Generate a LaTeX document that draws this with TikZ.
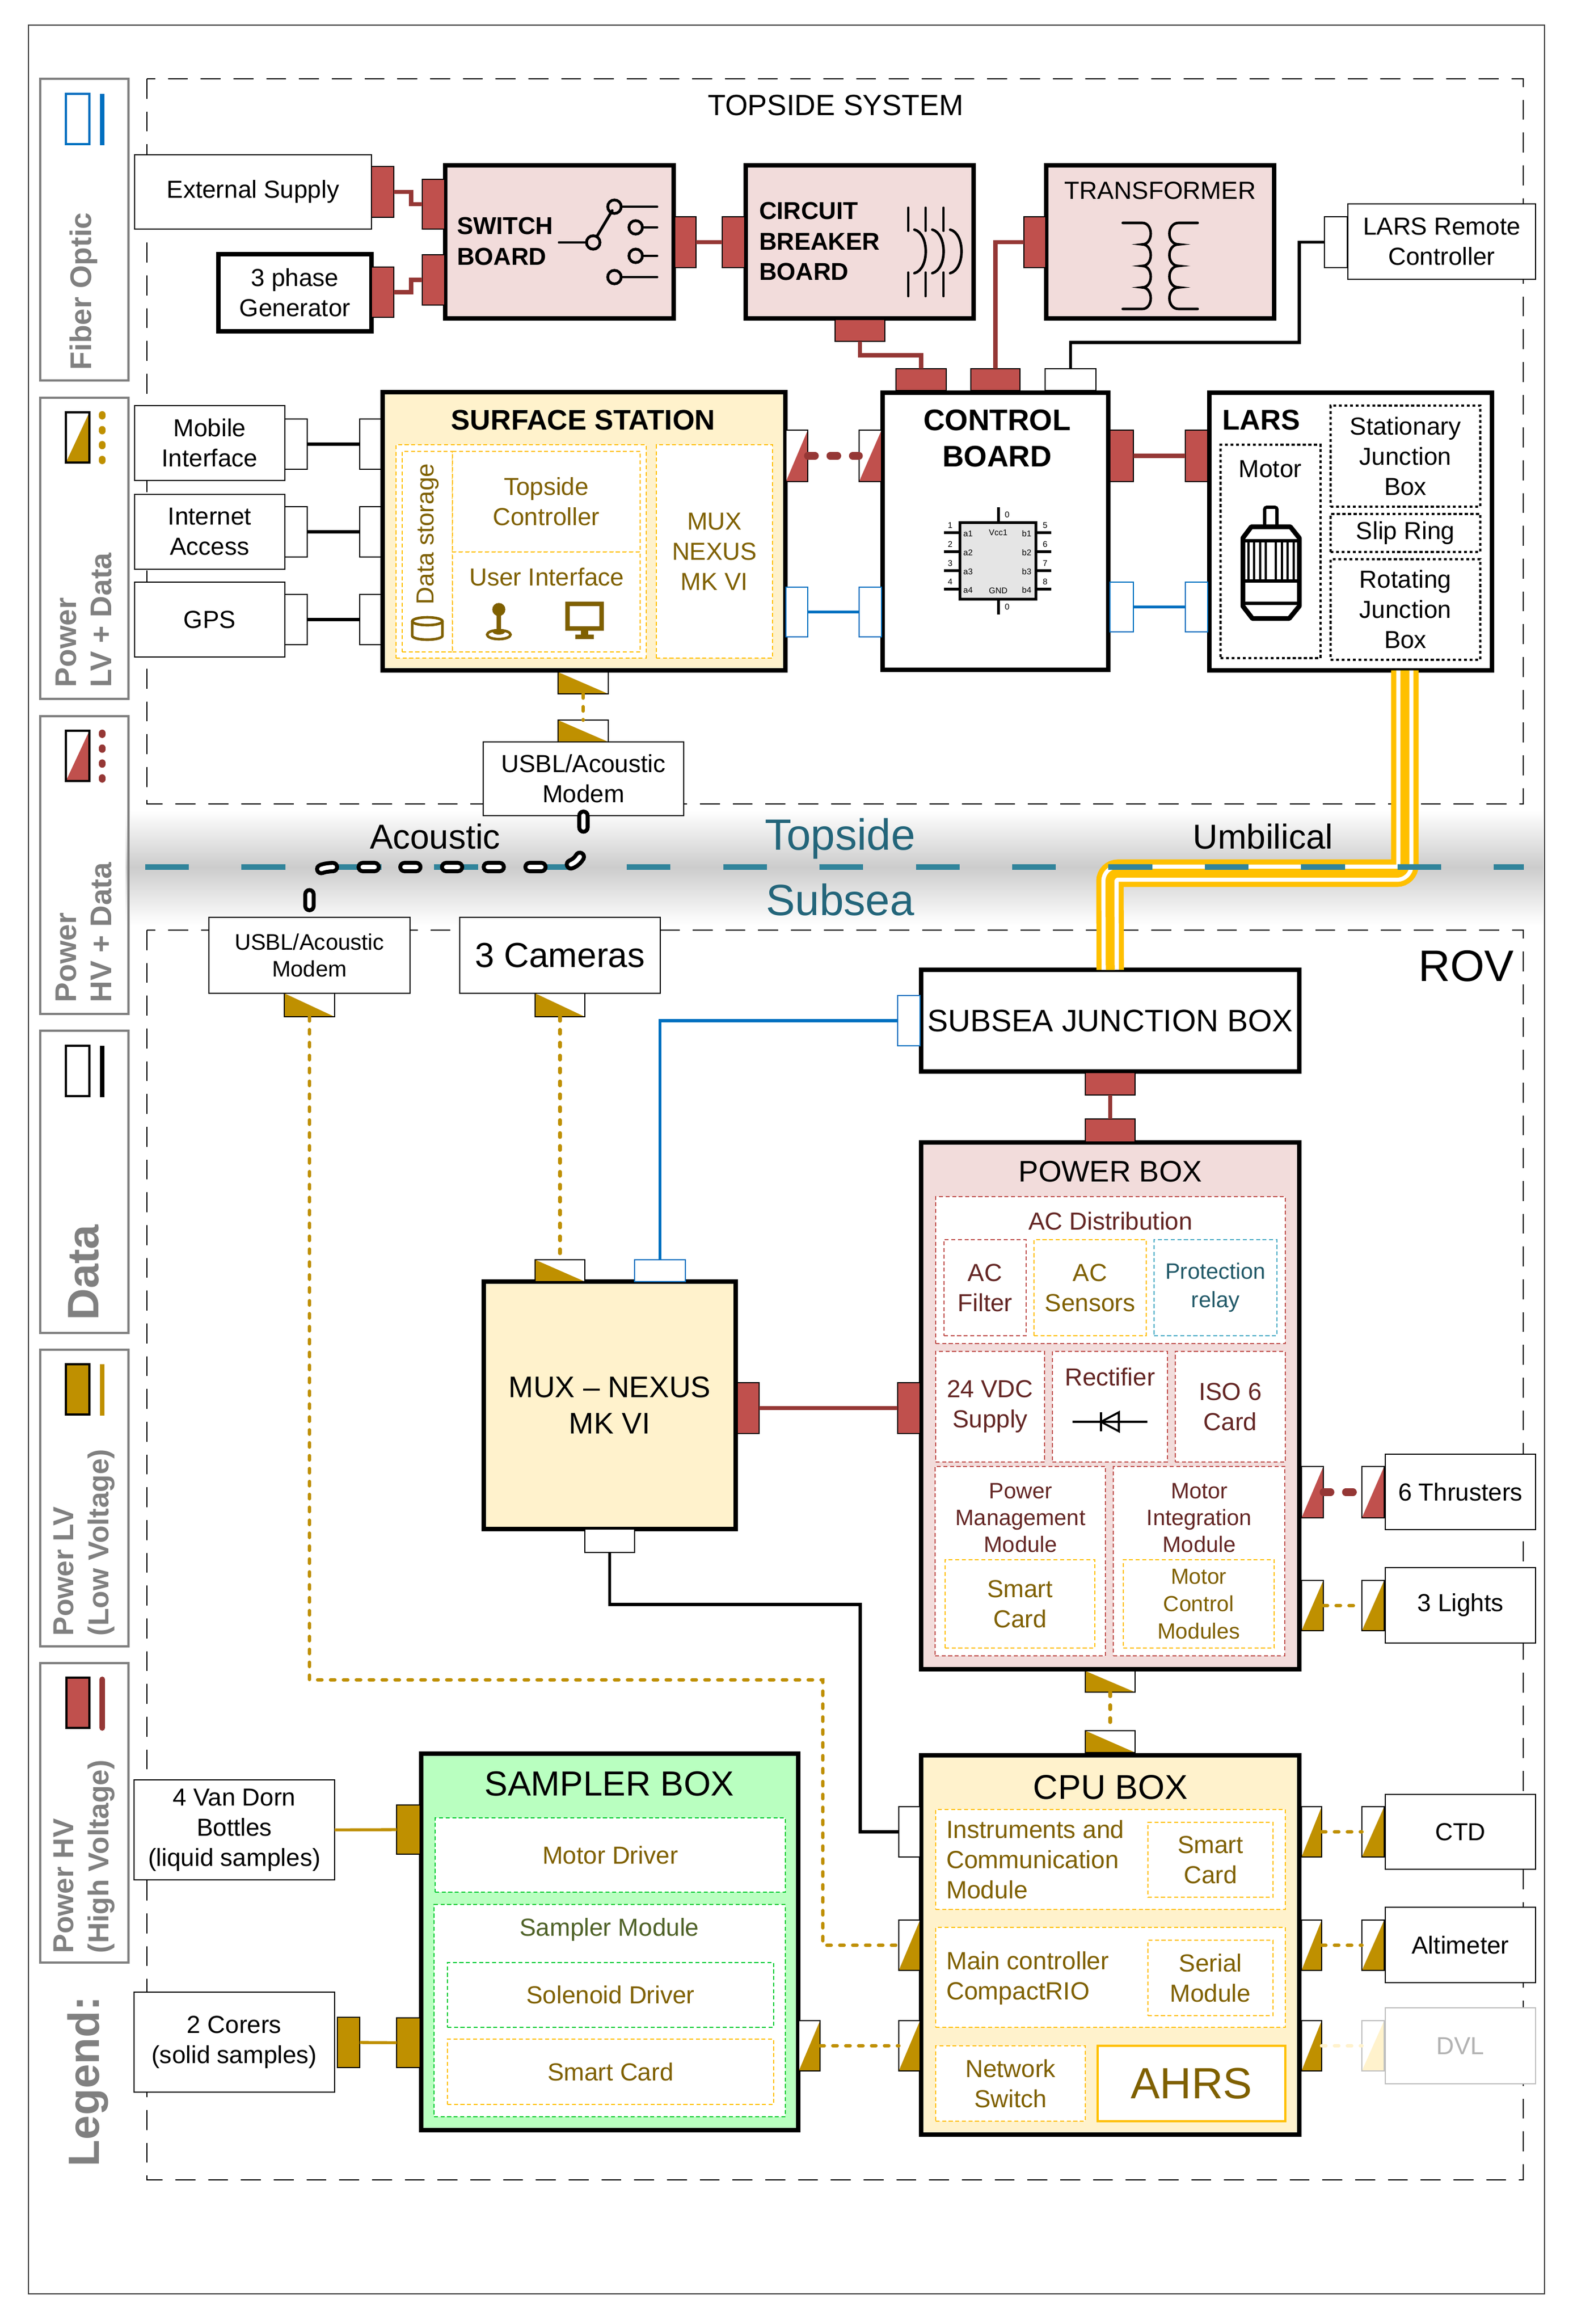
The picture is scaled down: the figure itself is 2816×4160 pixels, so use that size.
\documentclass[tikz,border=0pt]{standalone}
\usepackage{fontspec}
\setmainfont{Liberation Sans}
\newcommand{\myfs}[2]{\fontsize{#1}{#2}\selectfont}
\newcommand{\mkbox}[7]{\node[#1, minimum width={(#5-#3)*0.28125pt}, minimum height={(#6-#4)*0.28125pt}] (#2) at ({(#3+#5)/2},{(#4+#6)/2}) {#7};}
\definecolor{hvred}{HTML}{C0504D}
\definecolor{hvwire}{HTML}{953735}
\definecolor{gold}{HTML}{BF9000}
\definecolor{dkgold}{HTML}{7F6000}
\definecolor{pinkfill}{HTML}{F2DCDB}
\definecolor{cream}{HTML}{FFF2CC}
\definecolor{yel}{HTML}{FFC000}
\definecolor{fiber}{HTML}{0070C0}
\definecolor{septeal}{HTML}{31849B}
\definecolor{seatext}{HTML}{23657A}
\definecolor{dkred}{HTML}{632523}
\definecolor{prteal}{HTML}{4BACC6}
\definecolor{prtext}{HTML}{215968}
\definecolor{greenfill}{RGB}{185,255,192}
\definecolor{grdot}{HTML}{00CC33}
\definecolor{olivetext}{HTML}{4F6228}
\definecolor{leggray}{HTML}{808080}
\tikzset{
  every node/.style={font=\myfs{12.4}{15.2}, inner sep=0pt, outer sep=0pt, align=center},
  bx/.style={draw, line width=0.8pt, fill=white},
  tbx/.style={draw, line width=2.4pt},
  port/.style={draw, line width=0.8pt},
  phv/.style={port, fill=hvred},
  plv/.style={port, fill=gold},
  pdat/.style={port, fill=white},
  pfo/.style={port, draw=fiber, fill=white},
  phvdv/.style={port, fill=white, path picture={\fill[hvred] (path picture bounding box.south west) -- (path picture bounding box.north east) -- (path picture bounding box.south east) -- cycle;}},
  plvdh/.style={port, fill=white, path picture={\fill[gold] (path picture bounding box.north west) -- (path picture bounding box.south west) -- (path picture bounding box.south east) -- cycle;}},
  plvdv/.style={port, fill=white, path picture={\fill[gold] (path picture bounding box.south west) -- (path picture bounding box.north east) -- (path picture bounding box.south east) -- cycle;}},
  pfade/.style={port, draw=black!25, fill=white, path picture={\fill[cream] (path picture bounding box.south west) -- (path picture bounding box.north east) -- (path picture bounding box.south east) -- cycle;}},
  dotb/.style={draw, line width=0.75pt, dash pattern=on 2pt off 1.3pt, fill=white},
  ydot/.style={dotb, draw=yel},
  rdot/.style={dotb, draw=hvred},
  gdot/.style={dotb, draw=grdot},
  tdot/.style={dotb, draw=prteal},
  kdot/.style={dotb, draw=black, line width=0.9pt, dash pattern=on 1.5pt off 1.3pt},
  hvw/.style={draw=hvwire, line width=2pt},
  datw/.style={draw=black, line width=1.5pt},
  fow/.style={draw=fiber, line width=1.5pt},
  lvw/.style={draw=gold, line width=1.5pt},
  lvdw/.style={draw=gold, line width=1.8pt, line cap=round, dash pattern=on 2.1pt off 4.4pt},
  hvdw/.style={draw=hvwire, line width=3.7pt, line cap=round, dash pattern=on 3.7pt off 7.6pt},
  sym/.style={draw=black, line width=1.3pt, line cap=round},
  legbox/.style={draw=leggray, line width=1.3pt},
  legtxt/.style={text=leggray, font=\bfseries\myfs{15}{17.7}, rotate=90, anchor=west, align=left},
  dashbox/.style={draw=black, line width=0.8pt, dash pattern=on 10pt off 6.5pt},
  ttl/.style={font=\myfs{15}{18.3}},
  bttl/.style={font=\bfseries\myfs{15}{18.3}},
}
\begin{document}
\begin{tikzpicture}[x=0.28125pt, y=-0.28125pt]
\useasboundingbox (0,0) rectangle (2816,4160);
\fill[white] (0,0) rectangle (2816,4160);
\draw[black!75, line width=0.5pt] (51,45) rectangle (2765,4106);

% separator band
\shade[top color=white, bottom color=white, middle color=black!20] (225,1450) rectangle (2763,1655);

% dashed system boxes
\draw[dashbox] (263,141) rectangle (2727,1439);
\draw[dashbox] (263,1665) rectangle (2727,3902);
\node[font=\myfs{14.7}{17}] (topsys) at (1496,189) {TOPSIDE SYSTEM};
\node[font=\myfs{22.2}{26}] (rovt) at (2625,1729) {ROV};

% ===== Legend =====
\mkbox{legbox}{lg1}{72}{141}{230}{681}{}
\mkbox{legbox}{lg2}{72}{712}{230}{1251}{}
\mkbox{legbox}{lg3}{72}{1282}{230}{1815}{}
\mkbox{legbox}{lg4}{72}{1845}{230}{2386}{}
\mkbox{legbox}{lg5}{72}{2416}{230}{2947}{}
\mkbox{legbox}{lg6}{72}{2977}{230}{3513}{}
\mkbox{pfo, line width=1pt}{lgi1}{118}{168}{160}{258}{}
\draw[fiber, line width=2pt] (183,168) -- (183,260);
\mkbox{plvdv, line width=1pt}{lgi2}{118}{738}{160}{828}{}
\draw[gold, line width=3.4pt, line cap=round, dash pattern=on 0.8pt off 6.7pt] (183,742) -- (183,828);
\mkbox{phvdv, line width=1pt}{lgi3}{118}{1308}{160}{1398}{}
\draw[hvwire, line width=3.4pt, line cap=round, dash pattern=on 0.8pt off 6.7pt] (183,1312) -- (183,1398);
\mkbox{pdat, line width=1pt}{lgi4}{118}{1872}{160}{1962}{}
\draw[black, line width=2pt] (183,1872) -- (183,1964);
\mkbox{plv, line width=1pt}{lgi5}{118}{2442}{160}{2532}{}
\draw[gold, line width=2pt] (183,2442) -- (183,2534);
\mkbox{phv, line width=1pt}{lgi6}{119}{3003}{160}{3093}{}
\draw[hvwire, line width=2.8pt, line cap=round] (183,3006) -- (183,3093);
\node[legtxt] (lgt1) at (150,662) {Fiber Optic};
\node[legtxt] (lgt2) at (150,1230) {Power\\LV + Data};
\node[legtxt] (lgt3) at (150,1794) {Power\\HV + Data};
\node[text=leggray, font=\bfseries\myfs{22.2}{26}, rotate=90] (lgt4) at (150,2278) {Data};
\node[legtxt, font=\bfseries\myfs{14.5}{17.7}] (lgt5) at (151,2928) {Power LV\\(Low Voltage)};
\node[legtxt, font=\bfseries\myfs{14.5}{17.7}] (lgt6) at (151,3496) {Power HV\\(High Voltage)};
\node[legtxt, font=\bfseries\myfs{22}{26}] (lgt7) at (157,3878) {Legend:};

% ===== Topside =====
\mkbox{bx}{ext}{241}{277}{665}{410}{External Supply}
\mkbox{phv}{extp}{665}{298}{705}{389}{}
\mkbox{bx, line width=2pt}{gen}{391}{455}{665}{593}{3 phase\\Generator}
\mkbox{phv}{genp}{665}{478}{705}{568}{}

\mkbox{tbx, fill=pinkfill}{sw}{797}{296}{1206}{570}{}
\node[font=\bfseries\myfs{12.3}{15.7}, anchor=west, align=left] (swt) at (818,432) {SWITCH\\BOARD};
\mkbox{phv}{swp1}{756}{321}{796}{410}{}
\mkbox{phv}{swp2}{756}{456}{796}{546}{}
\mkbox{phv}{swp3}{1208}{388}{1246}{479}{}
\draw[sym, line width=1.4pt] (1001,434) -- (1050,434);
\draw[sym, line width=1.4pt] (1062,434) circle[radius=3.4pt];
\draw[sym, line width=1.4pt] (1068,424) -- (1096,377);
\draw[sym, line width=1.4pt] (1100,370) circle[radius=3.4pt];
\draw[sym, line width=1.4pt] (1112,370) -- (1176,370);
\draw[sym, line width=1.4pt] (1138,407) circle[radius=3.4pt];
\draw[sym, line width=1.4pt] (1150,407) -- (1176,407);
\draw[sym, line width=1.4pt] (1138,458) circle[radius=3.4pt];
\draw[sym, line width=1.4pt] (1150,458) -- (1176,458);
\draw[sym, line width=1.4pt] (1100,496) circle[radius=3.4pt];
\draw[sym, line width=1.4pt] (1112,496) -- (1176,496);

\mkbox{tbx, fill=pinkfill}{cb}{1335}{296}{1743}{570}{}
\node[font=\bfseries\myfs{12.3}{15.3}, anchor=west, align=left] (cbt) at (1359,432) {CIRCUIT\\BREAKER\\BOARD};
\mkbox{phv}{cbp1}{1293}{388}{1333}{479}{}
\mkbox{phv}{cbp2}{1495}{572}{1584}{611}{}
\foreach \x in {1626,1657,1689} {
  \draw[sym] (\x,372) -- (\x,413);
  \draw[sym] (\x,488) -- (\x,530);
}
\foreach \x in {1637,1669,1701}
  \draw[sym] (\x,411) .. controls (\x+27,418) and (\x+27,482) .. (\x,489);

\mkbox{tbx, fill=pinkfill}{tr}{1873}{296}{2281}{570}{}
\node[font=\myfs{12.5}{15}] (trt) at (2077,341) {TRANSFORMER};
\mkbox{phv}{trp}{1833}{388}{1872}{479}{}
\draw[sym] (2010,399) -- (2045,399)
  .. controls (2065,399) and (2065,437.5) .. (2045,437.5)
  .. controls (2065,437.5) and (2065,476) .. (2045,476)
  .. controls (2065,476) and (2065,514.5) .. (2045,514.5)
  .. controls (2065,514.5) and (2065,553) .. (2045,553) -- (2010,553);
\draw[sym] (2144,399) -- (2110,399)
  .. controls (2088,399) and (2088,437.5) .. (2110,437.5)
  .. controls (2088,437.5) and (2088,476) .. (2110,476)
  .. controls (2088,476) and (2088,514.5) .. (2110,514.5)
  .. controls (2088,514.5) and (2088,553) .. (2110,553) -- (2144,553);

\mkbox{bx}{lrc}{2413}{365}{2749}{500}{LARS Remote\\Controller}
\mkbox{pdat}{lrcp}{2371}{388}{2412}{479}{}

% control board
\mkbox{tbx, fill=white}{ctl}{1580}{703}{1984}{1199}{}
\node[bttl] (ctlt) at (1785,785) {CONTROL\\BOARD};
\mkbox{phv}{ctlp1}{1604}{660}{1694}{699}{}
\mkbox{phv}{ctlp2}{1738}{660}{1826}{699}{}
\mkbox{pdat}{ctlp3}{1871}{660}{1962}{699}{}
\mkbox{phvdv}{ctlp4}{1538}{770}{1578}{862}{}
\mkbox{pfo}{ctlp5}{1538}{1051}{1578}{1140}{}
\mkbox{phv}{ctlp6}{1987}{770}{2029}{862}{}
\mkbox{pfo}{ctlp7}{1987}{1042}{2029}{1131}{}
% chip
\draw[line width=1.4pt, fill=black!10] (1718,935) rectangle (1854,1072);
\foreach \y in {953,987,1021,1054} {
  \draw[line width=1.4pt] (1690,\y) -- (1718,\y);
  \draw[line width=1.4pt] (1854,\y) -- (1882,\y);
}
\draw[line width=1.4pt] (1787,908) -- (1787,935);
\draw[line width=1.4pt] (1787,1072) -- (1787,1100);
\foreach \i/\y in {1/940,2/974,3/1008,4/1041}
  \node[font=\myfs{4.2}{5}] (cpn\i) at (1701,\y) {\i};
\foreach \i/\y in {5/940,6/974,7/1008,8/1041}
  \node[font=\myfs{4.2}{5}] (cpn\i) at (1871,\y) {\i};
\node[font=\myfs{4.2}{5}] (cpz1) at (1803,921) {0};
\node[font=\myfs{4.2}{5}] (cpz2) at (1803,1086) {0};
\foreach \i/\y in {1/955,2/989,3/1023,4/1056} {
  \node[font=\myfs{4.2}{5}] (cpa\i) at (1733,\y) {a\i};
  \node[font=\myfs{4.2}{5}] (cpb\i) at (1838,\y) {b\i};
}
\node[font=\myfs{4.2}{5}] (cpvcc) at (1787,953) {Vcc1};
\node[font=\myfs{4.2}{5}] (cpgnd) at (1787,1057) {GND};

% LARS
\mkbox{tbx, fill=white}{lars}{2165}{703}{2671}{1200}{}
\node[font=\bfseries\myfs{14.4}{17}] (larst) at (2258,752) {LARS};
\mkbox{kdot}{lmot}{2185}{796}{2364}{1178}{}
\node (lmott) at (2274,840) {Motor};
\mkbox{kdot}{ljb1}{2382}{726}{2650}{907}{Stationary\\Junction\\Box}
\mkbox{kdot}{lslip}{2382}{920}{2650}{988}{Slip Ring}
\mkbox{kdot}{ljb2}{2382}{1001}{2650}{1181}{Rotating\\Junction\\Box}
\mkbox{phv}{larsp1}{2122}{770}{2162}{862}{}
\mkbox{pfo}{larsp2}{2122}{1042}{2162}{1131}{}
% motor icon
\draw[line width=1.6pt, fill=white, rounded corners=1pt] (2264,908) rectangle (2286,943);
\draw[line width=2.4pt, fill=white, line join=round] (2240,943) -- (2310,943) -- (2326,963) -- (2326,1085) -- (2308,1107) -- (2242,1107) -- (2225,1085) -- (2225,963) -- cycle;
\draw[line width=1.6pt] (2225,968) -- (2326,968);
\draw[line width=1.6pt] (2225,1040) -- (2326,1040);
\draw[line width=1.6pt] (2225,1080) -- (2326,1080);
\foreach \x in {2235,2245,2256,2266,2284,2295,2305,2316}
  \draw[line width=1.1pt] (\x,968) -- (\x,1040);

% surface station
\mkbox{tbx, fill=cream}{ss}{685}{702}{1406}{1200}{}
\node[font=\bfseries\myfs{14.3}{17}] (sst) at (1044,752) {SURFACE STATION};
\mkbox{ydot}{ssg}{709}{796}{1157}{1178}{}
\mkbox{ydot}{ssds}{720}{808}{810}{1167}{}
\node[rotate=90, text=dkgold] (ssdst) at (766,956) {Data storage};
\mkbox{ydot, text=dkgold}{sstc}{810}{808}{1146}{988}{Topside\\Controller}
\mkbox{ydot}{ssui}{810}{988}{1146}{1167}{}
\node[text=dkgold] (ssuit) at (979,1033) {User Interface};
\mkbox{ydot, text=dkgold}{ssmux}{1175}{796}{1383}{1178}{MUX\\NEXUS\\MK VI}
% database icon
\draw[dkgold, line width=1.3pt, fill=white] (738,1112) -- (738,1138) arc[start angle=180, end angle=0, x radius=27, y radius=7] -- (792,1112);
\draw[dkgold, line width=1.3pt, fill=white] (765,1112) ellipse [x radius=27, y radius=7];
% joystick icon
\draw[dkgold, line width=1.3pt, fill=white] (893,1136) ellipse [x radius=21, y radius=8];
\fill[dkgold] (893,1131) ellipse [x radius=11, y radius=5];
\draw[dkgold, line width=2.2pt] (893,1100) -- (893,1130);
\fill[dkgold] (893,1091) circle[radius=3.3pt];
% monitor icon
\draw[dkgold, line width=2.2pt, fill=white] (1016,1081) rectangle (1077,1125);
\fill[dkgold] (1040,1125) rectangle (1053,1137);
\fill[dkgold] (1030,1136) rectangle (1063,1144);
\mkbox{phvdv}{sspr}{1407}{770}{1446}{862}{}
\mkbox{pfo}{sspb}{1407}{1051}{1446}{1140}{}
\mkbox{plvdh}{sspbot}{999}{1203}{1089}{1242}{}
\mkbox{pdat}{sspl1}{644}{750}{682}{840}{}
\mkbox{pdat}{sspl2}{644}{907}{682}{997}{}
\mkbox{pdat}{sspl3}{644}{1064}{682}{1154}{}

\mkbox{bx}{mob}{241}{726}{510}{860}{Mobile\\Interface}
\mkbox{pdat}{mobp}{510}{750}{550}{840}{}
\mkbox{bx}{inet}{241}{885}{510}{1019}{Internet\\Access}
\mkbox{pdat}{inetp}{510}{907}{550}{997}{}
\mkbox{bx}{gps}{241}{1042}{510}{1176}{GPS}
\mkbox{pdat}{gpsp}{510}{1064}{550}{1154}{}

\mkbox{bx}{tmodem}{865}{1328}{1224}{1460}{USBL/Acoustic\\Modem}
\mkbox{plvdh}{tmodemp}{999}{1289}{1089}{1328}{}

% ===== ROV =====
\mkbox{bx, font=\myfs{11.3}{13.6}}{smodem}{374}{1642}{734}{1778}{USBL/Acoustic\\Modem}
\mkbox{plvdh}{smodemp}{509}{1778}{599}{1820}{}
\mkbox{bx, font=\myfs{17.5}{20}}{cams}{823}{1642}{1182}{1778}{3 Cameras}
\mkbox{plvdh}{camsp}{958}{1778}{1047}{1820}{}

\mkbox{tbx, fill=white, font=\myfs{15.6}{18}}{sjb}{1649}{1736}{2326}{1918}{SUBSEA JUNCTION BOX}
\mkbox{pfo}{sjbpl}{1607}{1782}{1647}{1872}{}
\mkbox{phv}{sjbpb}{1943}{1920}{2032}{1960}{}

% power box
\mkbox{tbx, fill=pinkfill}{pb}{1649}{2045}{2326}{2988}{}
\node[ttl] (pbt) at (1988,2097) {POWER BOX};
\mkbox{phv}{pbpt}{1943}{2003}{2032}{2044}{}
\mkbox{phv}{pbpl}{1607}{2475}{1647}{2566}{}
\mkbox{phvdv}{pbpr1}{2330}{2625}{2369}{2717}{}
\mkbox{plvdv}{pbpr2}{2330}{2829}{2369}{2919}{}
\mkbox{plvdh}{pbpb}{1943}{2991}{2032}{3029}{}
\mkbox{rdot}{acd}{1675}{2142}{2301}{2405}{}
\node[text=dkred] (acdt) at (1988,2186) {AC Distribution};
\mkbox{rdot, text=dkred}{acf}{1690}{2219}{1837}{2391}{AC\\Filter}
\mkbox{ydot, text=dkgold}{acs}{1851}{2219}{2052}{2391}{AC\\Sensors}
\mkbox{tdot, text=prtext, font=\myfs{11.2}{14.3}}{prl}{2066}{2219}{2286}{2391}{Protection\\relay}
\mkbox{rdot, text=dkred}{vdc}{1675}{2419}{1870}{2617}{24 VDC\\Supply}
\mkbox{rdot}{rectf}{1884}{2419}{2090}{2617}{}
\node[text=dkred] (rectt) at (1987,2465) {Rectifier};
\draw[line width=1pt] (1920,2545) -- (2054,2545);
\draw[line width=1pt] (1971,2528) -- (1971,2562);
\draw[line width=1pt, line join=miter] (1971,2545) -- (2003,2528) -- (2003,2562) -- cycle;
\mkbox{rdot, text=dkred}{iso}{2104}{2419}{2301}{2617}{ISO 6\\Card}
\mkbox{rdot}{pmm}{1674}{2625}{1979}{2964}{}
\node[text=dkred, font=\myfs{11.2}{13.5}] (pmmt) at (1827,2717) {Power\\Management\\Module};
\mkbox{rdot}{mim}{1993}{2625}{2300}{2964}{}
\node[text=dkred, font=\myfs{11.2}{13.5}] (mimt) at (2147,2717) {Motor\\Integration\\Module};
\mkbox{ydot, text=dkgold}{sc1}{1692}{2792}{1960}{2950}{Smart\\Card}
\mkbox{ydot, text=dkgold, font=\myfs{11}{13.8}}{mcm}{2011}{2792}{2281}{2950}{Motor\\Control\\Modules}

\mkbox{bx}{thr}{2480}{2603}{2749}{2738}{6 Thrusters}
\mkbox{phvdv}{thrp}{2438}{2625}{2478}{2717}{}
\mkbox{bx}{lights}{2480}{2806}{2749}{2941}{3 Lights}
\mkbox{plvdv}{lightsp}{2438}{2829}{2478}{2919}{}

% MUX
\mkbox{tbx, fill=cream, font=\myfs{15}{18.4}}{mux}{866}{2294}{1317}{2737}{MUX -- NEXUS\\MK VI}
\mkbox{plvdh}{muxpt1}{958}{2255}{1047}{2294}{}
\mkbox{pfo}{muxpt2}{1136}{2255}{1227}{2294}{}
\mkbox{phv}{muxpr}{1320}{2475}{1359}{2566}{}
\mkbox{pdat}{muxpb}{1047}{2737}{1136}{2779}{}

% CPU box
\mkbox{tbx, fill=cream}{cpu}{1649}{3142}{2326}{3821}{}
\node[font=\myfs{17.3}{20}] (cput) at (1988,3199) {CPU BOX};
\mkbox{plvdh}{cpupt}{1943}{3098}{2032}{3137}{}
\mkbox{pdat}{cpupl1}{1609}{3234}{1647}{3324}{}
\mkbox{plvdv}{cpupl2}{1609}{3437}{1647}{3527}{}
\mkbox{plvdv}{cpupl3}{1609}{3617}{1647}{3707}{}
\mkbox{plvdv}{cpupr1}{2330}{3234}{2366}{3324}{}
\mkbox{plvdv}{cpupr2}{2330}{3437}{2366}{3527}{}
\mkbox{plvdv}{cpupr3}{2330}{3617}{2366}{3707}{}
\mkbox{ydot}{icm}{1675}{3239}{2301}{3418}{}
\node[text=dkgold, font=\myfs{12.5}{15.2}, anchor=west, align=left] (icmt) at (1694,3329) {Instruments and\\Communication\\Module};
\mkbox{ydot, text=dkgold}{sc2}{2055}{3262}{2279}{3396}{Smart\\Card}
\mkbox{ydot}{mc}{1675}{3450}{2301}{3629}{}
\node[text=dkgold, font=\myfs{12.5}{15}, anchor=west, align=left] (mct) at (1694,3541) {Main controller\\CompactRIO};
\mkbox{ydot, text=dkgold}{ser}{2055}{3473}{2279}{3608}{Serial\\Module}
\mkbox{ydot, text=dkgold}{ns}{1675}{3662}{1943}{3797}{Network\\Switch}
\mkbox{draw=yel, line width=1pt, fill=white, text=dkgold, font=\myfs{22}{26}}{ahrs}{1965}{3662}{2301}{3797}{AHRS}

\mkbox{bx}{ctd}{2480}{3212}{2749}{3346}{CTD}
\mkbox{plvdv}{ctdp}{2438}{3234}{2478}{3324}{}
\mkbox{bx}{alt}{2480}{3414}{2749}{3549}{Altimeter}
\mkbox{plvdv}{altp}{2438}{3437}{2478}{3527}{}
\mkbox{bx, draw=black!25, text=black!30}{dvl}{2480}{3594}{2749}{3730}{DVL}
\mkbox{pfade}{dvlp}{2438}{3617}{2478}{3707}{}

% sampler
\mkbox{tbx, fill=greenfill}{smp}{754}{3139}{1429}{3813}{}
\node[font=\myfs{17.5}{20}] (smpt) at (1091,3193) {SAMPLER BOX};
\mkbox{plv}{smpl1}{710}{3231}{752}{3319}{}
\mkbox{plv}{smpl2}{710}{3612}{752}{3701}{}
\mkbox{plvdv}{smpr}{1430}{3617}{1468}{3707}{}
\mkbox{gdot, text=dkgold}{md}{779}{3254}{1406}{3387}{Motor Driver}
\mkbox{gdot}{sm}{777}{3409}{1406}{3789}{}
\node[text=olivetext] (smt) at (1091,3454) {Sampler Module};
\mkbox{gdot, text=dkgold}{sd}{801}{3513}{1385}{3629}{Solenoid Driver}
\mkbox{ydot, text=dkgold}{sc3}{801}{3650}{1385}{3767}{Smart Card}

\mkbox{bx}{vandorn}{240}{3186}{599}{3365}{4 Van Dorn\\Bottles\\(liquid samples)}
\mkbox{bx}{corers}{240}{3566}{599}{3745}{2 Corers\\(solid samples)}
\mkbox{plv}{corersp}{604}{3611}{644}{3701}{}

% ===== Wires =====
\draw[hvw] (extp.east) -- ++(31,0) |- (swp1.west);
\draw[hvw] (genp.east) -- ++(31,0) |- (swp2.west);
\draw[hvw] (swp3.east) -- (cbp1.west);
\draw[hvw] (cbp2.south) -- ++(0,25) -| (ctlp1.north);
\draw[hvw] (ctlp2.north) |- (trp.west);
\draw[hvw] (ctlp6.east) -- (larsp1.west);
\draw[hvw] (sjbpb.south) -- (pbpt.north);
\draw[hvw] (muxpr.east) -- (pbpl.west);

\draw[datw] (ctlp3.north) -- ++(0,-47) -| (2326,433.5) -- (lrcp.west);
\draw[datw] (mobp.east) -- (sspl1.west);
\draw[datw] (inetp.east) -- (sspl2.west);
\draw[datw] (gpsp.east) -- (sspl3.west);
\draw[datw] (muxpb.south) |- (1540,2872) |- (cpupl1.west);

\draw[fow] (sspb.east) -- (ctlp5.west);
\draw[fow] (ctlp7.east) -- (larsp2.west);
\draw[fow] (muxpt2.north) |- (sjbpl.west);

\draw[hvdw] (sspr.east) -- (ctlp4.west);
\draw[hvdw] (pbpr1.east) -- (thrp.west);

\draw[lvdw] (sspbot.south) -- (tmodemp.north);
\draw[lvdw] (camsp.south) -- (muxpt1.north);
\draw[lvdw] (smodemp.south) |- (1473,3007) |- (cpupl2.west);
\draw[lvdw] (smpr.east) -- (cpupl3.west);
\draw[lvdw] (pbpb.south) -- (cpupt.north);
\draw[lvdw] (pbpr2.east) -- (lightsp.west);
\draw[lvdw] (cpupr1.east) -- (ctdp.west);
\draw[lvdw] (cpupr2.east) -- (altp.west);
\draw[lvdw, draw=cream] (cpupr3.east) -- (dvlp.west);

\draw[lvw] (vandorn.east) -- (smpl1.west);
\draw[lvw] (corersp.east) -- (smpl2.west);

% umbilical
\coordinate (umbtop) at (2515,1200);
\draw[yel, line width=13.8pt, rounded corners=4pt] (umbtop) |- (1987,1563) -- (sjb.north);
\draw[white, line width=8.7pt, rounded corners=4pt] (umbtop) |- (1987,1563) -- (sjb.north);
\draw[yel, line width=4.5pt, rounded corners=4pt] (umbtop) |- (1987,1563) -- (sjb.north);

% sea level line
\draw[septeal, line width=2.6pt, dash pattern=on 22pt off 26.5pt] (260,1552) -- (2728,1552);
\node[text=seatext, font=\myfs{22}{26}] (topt) at (1504,1501) {Topside};
\node[text=seatext, font=\myfs{22}{26}] (subt) at (1504,1611) {Subsea};
\node[font=\myfs{17.4}{20}] (acout) at (779,1497) {Acoustic};
\node[font=\myfs{17.4}{20}] (umbt) at (2261,1497) {Umbilical};

% acoustic link
\draw[black, line width=6.2pt, line cap=round, dash pattern=on 6pt off 15pt]
  (tmodem.south) -- (1044.5,1500) .. controls (1044.5,1540) and (1030,1552) .. (990,1552) -- (600,1552) .. controls (565,1552) and (554,1565) .. (554,1600) -- (smodem.north);
\draw[white, line width=2.2pt, line cap=round, dash pattern=on 6pt off 15pt]
  (tmodem.south) -- (1044.5,1500) .. controls (1044.5,1540) and (1030,1552) .. (990,1552) -- (600,1552) .. controls (565,1552) and (554,1565) .. (554,1600) -- (smodem.north);
\end{tikzpicture}
\end{document}
